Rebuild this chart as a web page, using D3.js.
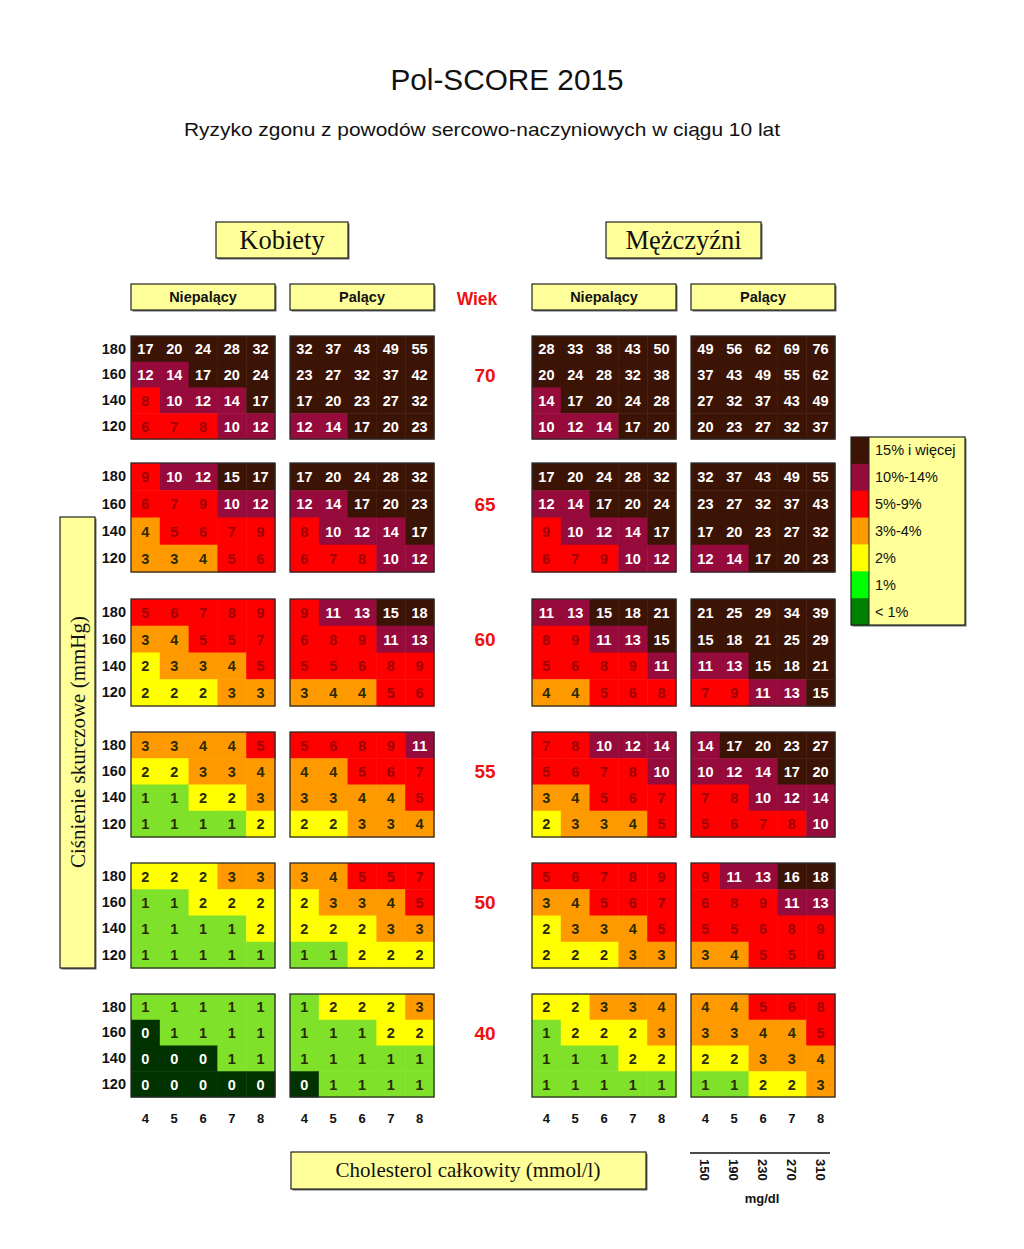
<!DOCTYPE html>
<html><head><meta charset="utf-8">
<script src="https://cdn.jsdelivr.net/npm/d3@7"></script>
<style>body{margin:0;background:#fff}svg{display:block}</style>
</head><body>
<script>
// ---- data ----
const ages = [70, 65, 60, 55, 50, 40];
const bpLevels = [180, 160, 140, 120];
const cholMmol = [4, 5, 6, 7, 8];
const cholMg = [150, 190, 230, 270, 310];
const panelTitles = ["Niepalący", "Palący", "Niepalący", "Palący"];
const sexTitles = ["Kobiety", "Mężczyźni"];
const legendLabels = ["15% i więcej", "10%-14%", "5%-9%", "3%-4%", "2%", "1%", "< 1%"];
const riskThresholds = [1, 2, 3, 5, 10, 15];
const riskColors = ["#003300", "#80e12a", "#ffff00", "#ff9900", "#ff0000", "#960a3c", "#3c1406"];
const legendColors = ["#3c1406", "#960a3c", "#ff0000", "#ff9900", "#ffff00", "#00ff00", "#008000"];

// rows: 180,160,140,120 ; cols: chol 4..8 ; blocks by age 70..40
const womenNonSmoker = [
  [[17,20,24,28,32],[12,14,17,20,24],[8,10,12,14,17],[6,7,8,10,12]],
  [[9,10,12,15,17],[6,7,9,10,12],[4,5,6,7,9],[3,3,4,5,6]],
  [[5,6,7,8,9],[3,4,5,5,7],[2,3,3,4,5],[2,2,2,3,3]],
  [[3,3,4,4,5],[2,2,3,3,4],[1,1,2,2,3],[1,1,1,1,2]],
  [[2,2,2,3,3],[1,1,2,2,2],[1,1,1,1,2],[1,1,1,1,1]],
  [[1,1,1,1,1],[0,1,1,1,1],[0,0,0,1,1],[0,0,0,0,0]]
];
const womenSmoker = [
  [[32,37,43,49,55],[23,27,32,37,42],[17,20,23,27,32],[12,14,17,20,23]],
  [[17,20,24,28,32],[12,14,17,20,23],[8,10,12,14,17],[6,7,8,10,12]],
  [[9,11,13,15,18],[6,8,9,11,13],[5,5,6,8,9],[3,4,4,5,6]],
  [[5,6,8,9,11],[4,4,5,6,7],[3,3,4,4,5],[2,2,3,3,4]],
  [[3,4,5,5,7],[2,3,3,4,5],[2,2,2,3,3],[1,1,2,2,2]],
  [[1,2,2,2,3],[1,1,1,2,2],[1,1,1,1,1],[0,1,1,1,1]]
];
const menNonSmoker = [
  [[28,33,38,43,50],[20,24,28,32,38],[14,17,20,24,28],[10,12,14,17,20]],
  [[17,20,24,28,32],[12,14,17,20,24],[9,10,12,14,17],[6,7,9,10,12]],
  [[11,13,15,18,21],[8,9,11,13,15],[5,6,8,9,11],[4,4,5,6,8]],
  [[7,8,10,12,14],[5,6,7,8,10],[3,4,5,6,7],[2,3,3,4,5]],
  [[5,6,7,8,9],[3,4,5,6,7],[2,3,3,4,5],[2,2,2,3,3]],
  [[2,2,3,3,4],[1,2,2,2,3],[1,1,1,2,2],[1,1,1,1,1]]
];
const menSmoker = [
  [[49,56,62,69,76],[37,43,49,55,62],[27,32,37,43,49],[20,23,27,32,37]],
  [[32,37,43,49,55],[23,27,32,37,43],[17,20,23,27,32],[12,14,17,20,23]],
  [[21,25,29,34,39],[15,18,21,25,29],[11,13,15,18,21],[7,9,11,13,15]],
  [[14,17,20,23,27],[10,12,14,17,20],[7,8,10,12,14],[5,6,7,8,10]],
  [[9,11,13,16,18],[6,8,9,11,13],[5,5,6,8,9],[3,4,5,5,6]],
  [[4,4,5,6,8],[3,3,4,4,5],[2,2,3,3,4],[1,1,2,2,3]]
];
const panels = [womenNonSmoker, womenSmoker, menNonSmoker, menSmoker];

// ---- layout ----
const W = 1024, H = 1249;
const panelX = [131, 290, 532, 691], panelW = 144;
const blockTop = [336, 463, 599, 732, 863, 994];
const blockH = [103, 109, 107, 105, 105, 103];
const SANS = "'Liberation Sans', Arial, sans-serif";
const SERIF = "'Liberation Serif', 'Times New Roman', serif";

const color = d3.scaleThreshold().domain(riskThresholds).range(riskColors);
function textColor(v) {
  if (v === 0 || v >= 10) return "#ffffff";
  if (v >= 5) return "#a00000";
  return "#2a2a00";
}

const svg = d3.select("body").append("svg").attr("width", W).attr("height", H);

// title
svg.append("text").attr("x", 507).attr("y", 90).attr("text-anchor", "middle")
  .attr("font-family", SANS).attr("font-size", 29).attr("fill", "#111")
  .attr("textLength", 233).attr("lengthAdjust", "spacingAndGlyphs").text("Pol-SCORE 2015");
svg.append("text").attr("x", 482).attr("y", 136).attr("text-anchor", "middle")
  .attr("font-family", SANS).attr("font-size", 19).attr("fill", "#111")
  .attr("textLength", 596).attr("lengthAdjust", "spacingAndGlyphs")
  .text("Ryzyko zgonu z powodów sercowo-naczyniowych w ciągu 10 lat");

function box(x, y, w, h) {
  svg.append("rect").attr("x", x + 1.5).attr("y", y + 1.5).attr("width", w).attr("height", h).attr("fill", "#666");
  svg.append("rect").attr("x", x).attr("y", y).attr("width", w).attr("height", h)
    .attr("fill", "#ffff99").attr("stroke", "#222").attr("stroke-width", 1.2);
}

// sex titles
[[216, 132], [606, 155]].forEach((b, i) => {
  box(b[0], 222, b[1], 36);
  svg.append("text").attr("x", b[0] + b[1] / 2).attr("y", 249).attr("text-anchor", "middle")
    .attr("font-family", SERIF).attr("font-size", 26.5).attr("fill", "#111").text(sexTitles[i]);
});

// panel titles
panelX.forEach((x, i) => {
  box(x, 284, panelW, 26);
  svg.append("text").attr("x", x + panelW / 2).attr("y", 302).attr("text-anchor", "middle")
    .attr("font-family", SANS).attr("font-weight", "bold").attr("font-size", 14.5).attr("fill", "#111")
    .text(panelTitles[i]);
});

svg.append("text").attr("x", 477).attr("y", 305).attr("text-anchor", "middle")
  .attr("font-family", SANS).attr("font-weight", "bold").attr("font-size", 17.5).attr("fill", "#ee1111").text("Wiek");

// y axis label box
box(60, 517, 35, 451);
svg.append("text").attr("transform", "translate(85,742) rotate(-90)").attr("text-anchor", "middle")
  .attr("font-family", SERIF).attr("font-size", 21).attr("fill", "#111").text("Ciśnienie skurczowe (mmHg)");

// grids
ages.forEach((age, ai) => {
  const y = d3.scaleBand().domain(bpLevels).range([blockTop[ai], blockTop[ai] + blockH[ai]]);
  panels.forEach((panel, pi) => {
    const x = d3.scaleBand().domain(cholMmol).range([panelX[pi], panelX[pi] + panelW]);
    const g = svg.append("g");
    const cells = [];
    panel[ai].forEach((row, ri) => row.forEach((v, ci) => cells.push({ bp: bpLevels[ri], ch: cholMmol[ci], v })));
    g.selectAll("rect").data(cells).join("rect")
      .attr("x", d => x(d.ch)).attr("y", d => y(d.bp))
      .attr("width", x.bandwidth() + 0.5).attr("height", y.bandwidth() + 0.5)
      .attr("fill", d => color(d.v));
    g.selectAll("text").data(cells).join("text")
      .attr("x", d => x(d.ch) + x.bandwidth() / 2).attr("y", d => y(d.bp) + y.bandwidth() / 2 + 5.5)
      .attr("text-anchor", "middle").attr("font-family", SANS).attr("font-weight", "bold")
      .attr("font-size", 14.5).attr("fill", d => textColor(d.v)).text(d => d.v);
    g.append("rect").attr("x", panelX[pi]).attr("y", blockTop[ai]).attr("width", panelW).attr("height", blockH[ai])
      .attr("fill", "none").attr("stroke", "#2a2a2a").attr("stroke-width", 1.3);
    if (pi === 0) {
      const yAxis = d3.axisLeft(y).tickSize(0).tickPadding(5);
      const ga = svg.append("g").attr("transform", `translate(${panelX[0]},0)`).call(yAxis);
      ga.select(".domain").remove();
      ga.selectAll("text").attr("font-family", SANS).attr("font-weight", "bold").attr("font-size", 14.5).attr("fill", "#111");
    }
  });
  svg.append("text").attr("x", 485).attr("y", y(160) + y.bandwidth() / 2 + 7)
    .attr("text-anchor", "middle")
    .attr("font-family", SANS).attr("font-weight", "bold").attr("font-size", 19).attr("fill", "#ee1111").text(age);
});

// bottom chol axes
panelX.forEach(px => {
  const x = d3.scaleBand().domain(cholMmol).range([px, px + panelW]);
  const ga = svg.append("g").attr("transform", "translate(0,1111)").call(d3.axisBottom(x).tickSize(0).tickPadding(3));
  ga.select(".domain").remove();
  ga.selectAll("text").attr("font-family", SANS).attr("font-weight", "bold").attr("font-size", 13).attr("fill", "#111");
});

// cholesterol label box
box(291, 1152, 355, 37);
svg.append("text").attr("x", 468).attr("y", 1177).attr("text-anchor", "middle")
  .attr("font-family", SERIF).attr("font-size", 21).attr("fill", "#111").text("Cholesterol całkowity (mmol/l)");

// mg/dl scale
{
  const x = d3.scaleBand().domain(cholMg).range([panelX[3], panelX[3] + panelW]);
  svg.append("line").attr("x1", 690).attr("x2", 830).attr("y1", 1153).attr("y2", 1153).attr("stroke", "#111").attr("stroke-width", 1.5);
  svg.selectAll(".mg").data(cholMg).join("text").attr("class", "mg")
    .attr("transform", d => `translate(${x(d) + x.bandwidth() / 2 - 5},1159) rotate(90)`)
    .attr("font-family", SANS).attr("font-weight", "bold").attr("font-size", 13).attr("fill", "#111").text(d => d);
  svg.append("text").attr("x", 762).attr("y", 1203).attr("text-anchor", "middle")
    .attr("font-family", SANS).attr("font-weight", "bold").attr("font-size", 13).attr("fill", "#111").text("mg/dl");
}

// legend
{
  const ly = d3.scaleBand().domain(legendLabels).range([437, 625]);
  svg.append("rect").attr("x", 852.5).attr("y", 438.5).attr("width", 114).attr("height", 188).attr("fill", "#666");
  svg.append("rect").attr("x", 851).attr("y", 437).attr("width", 114).attr("height", 188).attr("fill", "#ffff99");
  svg.selectAll(".lg").data(legendLabels).join("rect").attr("class", "lg")
    .attr("x", 851).attr("y", d => ly(d)).attr("width", 18).attr("height", ly.bandwidth() + 0.5)
    .attr("fill", (d, i) => legendColors[i]);
  svg.selectAll(".lt").data(legendLabels).join("text").attr("class", "lt")
    .attr("x", 875).attr("y", d => ly(d) + ly.bandwidth() / 2 + 5)
    .attr("font-family", SANS).attr("font-size", 14.5).attr("fill", "#111").text(d => d);
  svg.append("line").attr("x1", 869).attr("x2", 869).attr("y1", 437).attr("y2", 625).attr("stroke", "#222").attr("stroke-width", 1);
  svg.append("rect").attr("x", 851).attr("y", 437).attr("width", 114).attr("height", 188)
    .attr("fill", "none").attr("stroke", "#222").attr("stroke-width", 1.2);
}
</script>
</body></html>
